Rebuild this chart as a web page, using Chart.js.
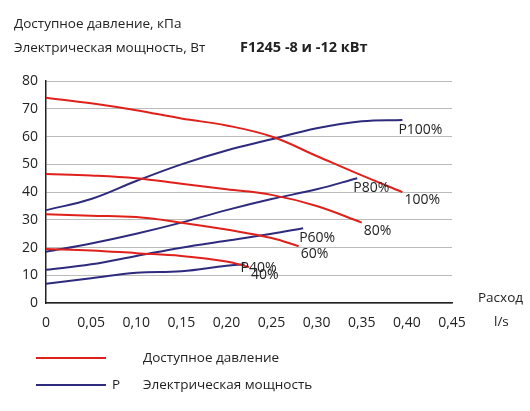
<!DOCTYPE html>
<html lang="ru">
<head>
<meta charset="UTF-8">
<script src="https://cdn.jsdelivr.net/npm/chart.js"></script>
<style>
  body { margin: 0; background: #fff; font-family: "Open Sans", sans-serif; color: #222; }
  .wrap { position: relative; width: 530px; height: 411px; }
  canvas { position: absolute; left: 0; top: 0; }
  .t { position: absolute; font-size: 13.5px; white-space: nowrap; }
  .leg { position: absolute; height: 2px; width: 70px; }
</style>
</head>
<body>
<div class="wrap">
  <canvas id="c" width="530" height="411"></canvas>
  <div class="t" style="left:14px;top:14px">Доступное давление, кПа</div>
  <div class="t" style="left:14px;top:38px">Электрическая мощность, Вт</div>
  <div class="t" style="left:240px;top:37px;font-weight:bold;font-size:14.5px">F1245 -8 и -12 кВт</div>
  <div class="t" style="left:478px;top:288px">Расход</div>
  <div class="t" style="left:494px;top:312px">l/s</div>
  <div class="leg" style="left:36px;top:357px;background:#e0201b"></div>
  <div class="t" style="left:143px;top:348px">Доступное давление</div>
  <div class="leg" style="left:36px;top:384px;background:#2e2a7e"></div>
  <div class="t" style="left:112px;top:375px">P</div>
  <div class="t" style="left:143px;top:375px">Электрическая мощность</div>
</div>
<script>
const flow = [0, 0.05, 0.1, 0.15, 0.2, 0.25, 0.3, 0.35];

const p100 = [74, 72, 69.5, 66.5, 64, 60, 53, 46];
const p80 = [46.5, 46, 45, 43, 41, 39, 35, 29];
const p60 = [32, 31.5, 31, 29, 26.5, 23.5];
const p40 = [19.5, 19, 18, 17, 15];

const w100 = [33.5, 37.5, 44, 50, 55, 59, 63, 65.5];
const w80 = [18.5, 21.5, 25, 29, 33.5, 37.5, 41];
const w60 = [12, 14, 17, 20, 22.5, 25];
const w40 = [7, 9, 11, 11.5, 13.5];

// last points beyond the 0.05 grid
const p100End = [0.395, 40], p60End = [0.28, 20.5], p40End = [0.225, 13];
const w100End = [0.395, 66], w80End = [0.345, 45], w60End = [0.285, 27], w40End = [0.22, 14];

function pts(vals, end) {
  const a = vals.map((v, i) => ({x: flow[i], y: v}));
  if (end) a.push({x: end[0], y: end[1]});
  return a;
}

const RED = '#e0201b', BLUE = '#2e2a7e';
function ds(label, data, color, dx, dy) {
  return {label, data, borderColor: color, borderWidth: 2, pointRadius: 0, tension: 0.4, fill: false, tag: {dx, dy}};
}

const endLabels = {
  id: 'endLabels',
  afterDatasetsDraw(chart) {
    const ctx = chart.ctx;
    ctx.save();
    ctx.font = '14px "Open Sans"';
    ctx.fillStyle = '#222';
    ctx.textBaseline = 'middle';
    chart.data.datasets.forEach((d, i) => {
      const el = chart.getDatasetMeta(i).data.at(-1);
      ctx.fillText(d.label, el.x + d.tag.dx, el.y + d.tag.dy);
    });
    ctx.restore();
  }
};

new Chart(document.getElementById('c'), {
  type: 'line',
  data: {
    datasets: [
      ds('100%', pts(p100, p100End), RED, 2, 8),
      ds('80%', pts(p80), RED, 2, 8),
      ds('60%', pts(p60, p60End), RED, 2, 8),
      ds('40%', pts(p40, p40End), RED, 2, 8),
      ds('P100%', pts(w100, w100End), BLUE, -4, 10),
      ds('P80%', pts(w80, w80End), BLUE, -4, 10),
      ds('P60%', pts(w60, w60End), BLUE, -4, 10),
      ds('P40%', pts(w40, w40End), BLUE, -4, 4)
    ]
  },
  options: {
    responsive: false,
    animation: false,
    layout: {padding: {left: 14, top: 81, right: 78, bottom: 77}},
    plugins: {legend: {display: false}, tooltip: {enabled: false}},
    scales: {
      x: {
        type: 'linear', min: 0, max: 0.45,
        grid: {display: false, drawTicks: true},
        border: {color: '#222', width: 1.5},
        ticks: {stepSize: 0.05, color: '#222', font: {size: 14, family: 'Open Sans'},
          callback: v => v === 0 ? '0' : v.toFixed(2).replace('.', ',')}
      },
      y: {
        min: 0, max: 80,
        grid: {color: '#bbb', drawTicks: false},
        border: {color: '#222', width: 1.5},
        ticks: {stepSize: 10, color: '#222', padding: 8, font: {size: 14, family: 'Open Sans'}}
      }
    }
  },
  plugins: [endLabels]
});
</script>
</body>
</html>
